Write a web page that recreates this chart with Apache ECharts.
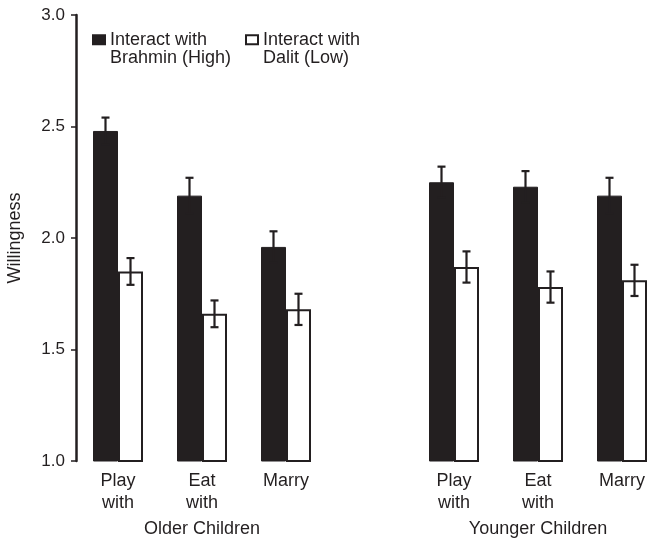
<!DOCTYPE html>
<html><head><meta charset="utf-8">
<script src="https://cdn.jsdelivr.net/npm/echarts@6/dist/echarts.min.js"></script>
<style>html,body{margin:0;padding:0;background:#fff}#c{width:652px;height:542px}</style>
</head><body><div id="c"></div>
<script>
const categories = ['Play\nwith', 'Eat\nwith', 'Marry', '', 'Play\nwith', 'Eat\nwith', 'Marry'];
const groupLabels = ['', 'Older Children', '', '', '', 'Younger Children', ''];
const seriesNames = ['Interact with Brahmin (High)', 'Interact with Dalit (Low)'];
const highValues = [2.48, 2.19, 1.96, null, 2.25, 2.23, 2.19];
const highErrors = [0.06, 0.08, 0.07, null, 0.07, 0.07, 0.08];
const lowValues = [1.85, 1.66, 1.68, null, 1.87, 1.78, 1.81];
const lowErrors = [0.06, 0.06, 0.07, null, 0.07, 0.07, 0.07];
const yMin = 1.0, yMax = 3.0, yStep = 0.5;

const INK = '#231f20';
const FONT = "'Liberation Sans', Arial, Helvetica, sans-serif";
const BAR_W = 25;

function errSeries(vals, errs, side) {
  const data = [];
  vals.forEach((v, i) => { if (v != null) data.push([i, v, errs[i]]); });
  return {
    type: 'custom', silent: true, z: 10,
    encode: { x: 0, y: 1 },
    data: data,
    renderItem: function (params, api) {
      const i = api.value(0), v = api.value(1), e = api.value(2);
      const t = api.coord([i, v + e]);
      const b = api.coord([i, v - e]);
      const x = t[0] + side * BAR_W / 2;
      const cap = 4;
      const st = { stroke: INK, lineWidth: 2.2, fill: null };
      return {
        type: 'group',
        children: [
          { type: 'line', shape: { x1: x, y1: t[1], x2: x, y2: b[1] }, style: st },
          { type: 'line', shape: { x1: x - cap, y1: t[1], x2: x + cap, y2: t[1] }, style: st },
          { type: 'line', shape: { x1: x - cap, y1: b[1], x2: x + cap, y2: b[1] }, style: st }
        ]
      };
    }
  };
}

const legendBase = {
  orient: 'horizontal', top: 12, padding: 0, itemWidth: 12, itemHeight: 9, itemGap: 0,
  icon: 'rect',
  selectedMode: false,
  formatter: n => ' \n' + n.replace('with ', 'with\n'),
  textStyle: { fontFamily: FONT, fontSize: 18, color: INK, lineHeight: 18.5 }
};

const chart = echarts.init(document.getElementById('c'), null, { renderer: 'canvas' });
chart.setOption({
  animation: false,
  backgroundColor: '#fff',
  textStyle: { fontFamily: FONT, color: INK },
  legend: [
    Object.assign({}, legendBase, { left: 92, data: [seriesNames[0]] }),
    Object.assign({}, legendBase, { left: 245, data: [seriesNames[1]] })
  ],
  grid: { left: 76, top: 15, width: 588, bottom: 81, containLabel: false, outerBoundsMode: 'none' },
  xAxis: [
    {
      type: 'category', data: categories, position: 'bottom',
      axisLine: { show: false }, axisTick: { show: false },
      axisLabel: { interval: 0, fontFamily: FONT, fontSize: 18, lineHeight: 22, color: INK, margin: 9 }
    },
    {
      type: 'category', data: groupLabels, position: 'bottom', offset: 0,
      axisLine: { show: false }, axisTick: { show: false },
      axisLabel: { interval: 0, fontFamily: FONT, fontSize: 18, color: INK, margin: 59 }
    }
  ],
  yAxis: {
    type: 'value', min: yMin, max: yMax, interval: yStep,
    name: 'Willingness', nameLocation: 'middle', nameGap: 52, nameRotate: 90,
    nameTextStyle: { fontFamily: FONT, fontSize: 18, color: INK },
    axisLine: { show: true, lineStyle: { color: INK, width: 2.5 } },
    axisTick: { show: true, length: 5, lineStyle: { color: INK, width: 1.5 } },
    axisLabel: { formatter: v => v.toFixed(1), fontFamily: FONT, fontSize: 17, color: INK, margin: 11 },
    splitLine: { show: false }
  },
  series: [
    {
      name: seriesNames[0], type: 'bar', data: highValues, barWidth: BAR_W, barGap: '0%',
      itemStyle: { color: INK, borderColor: INK, borderWidth: 1 }
    },
    {
      name: seriesNames[1], type: 'bar', data: lowValues, barWidth: BAR_W, barGap: '0%',
      itemStyle: { color: '#ffffff', borderColor: INK, borderWidth: 2 }
    },
    errSeries(highValues, highErrors, -1),
    errSeries(lowValues, lowErrors, 1)
  ]
});
</script></body></html>
